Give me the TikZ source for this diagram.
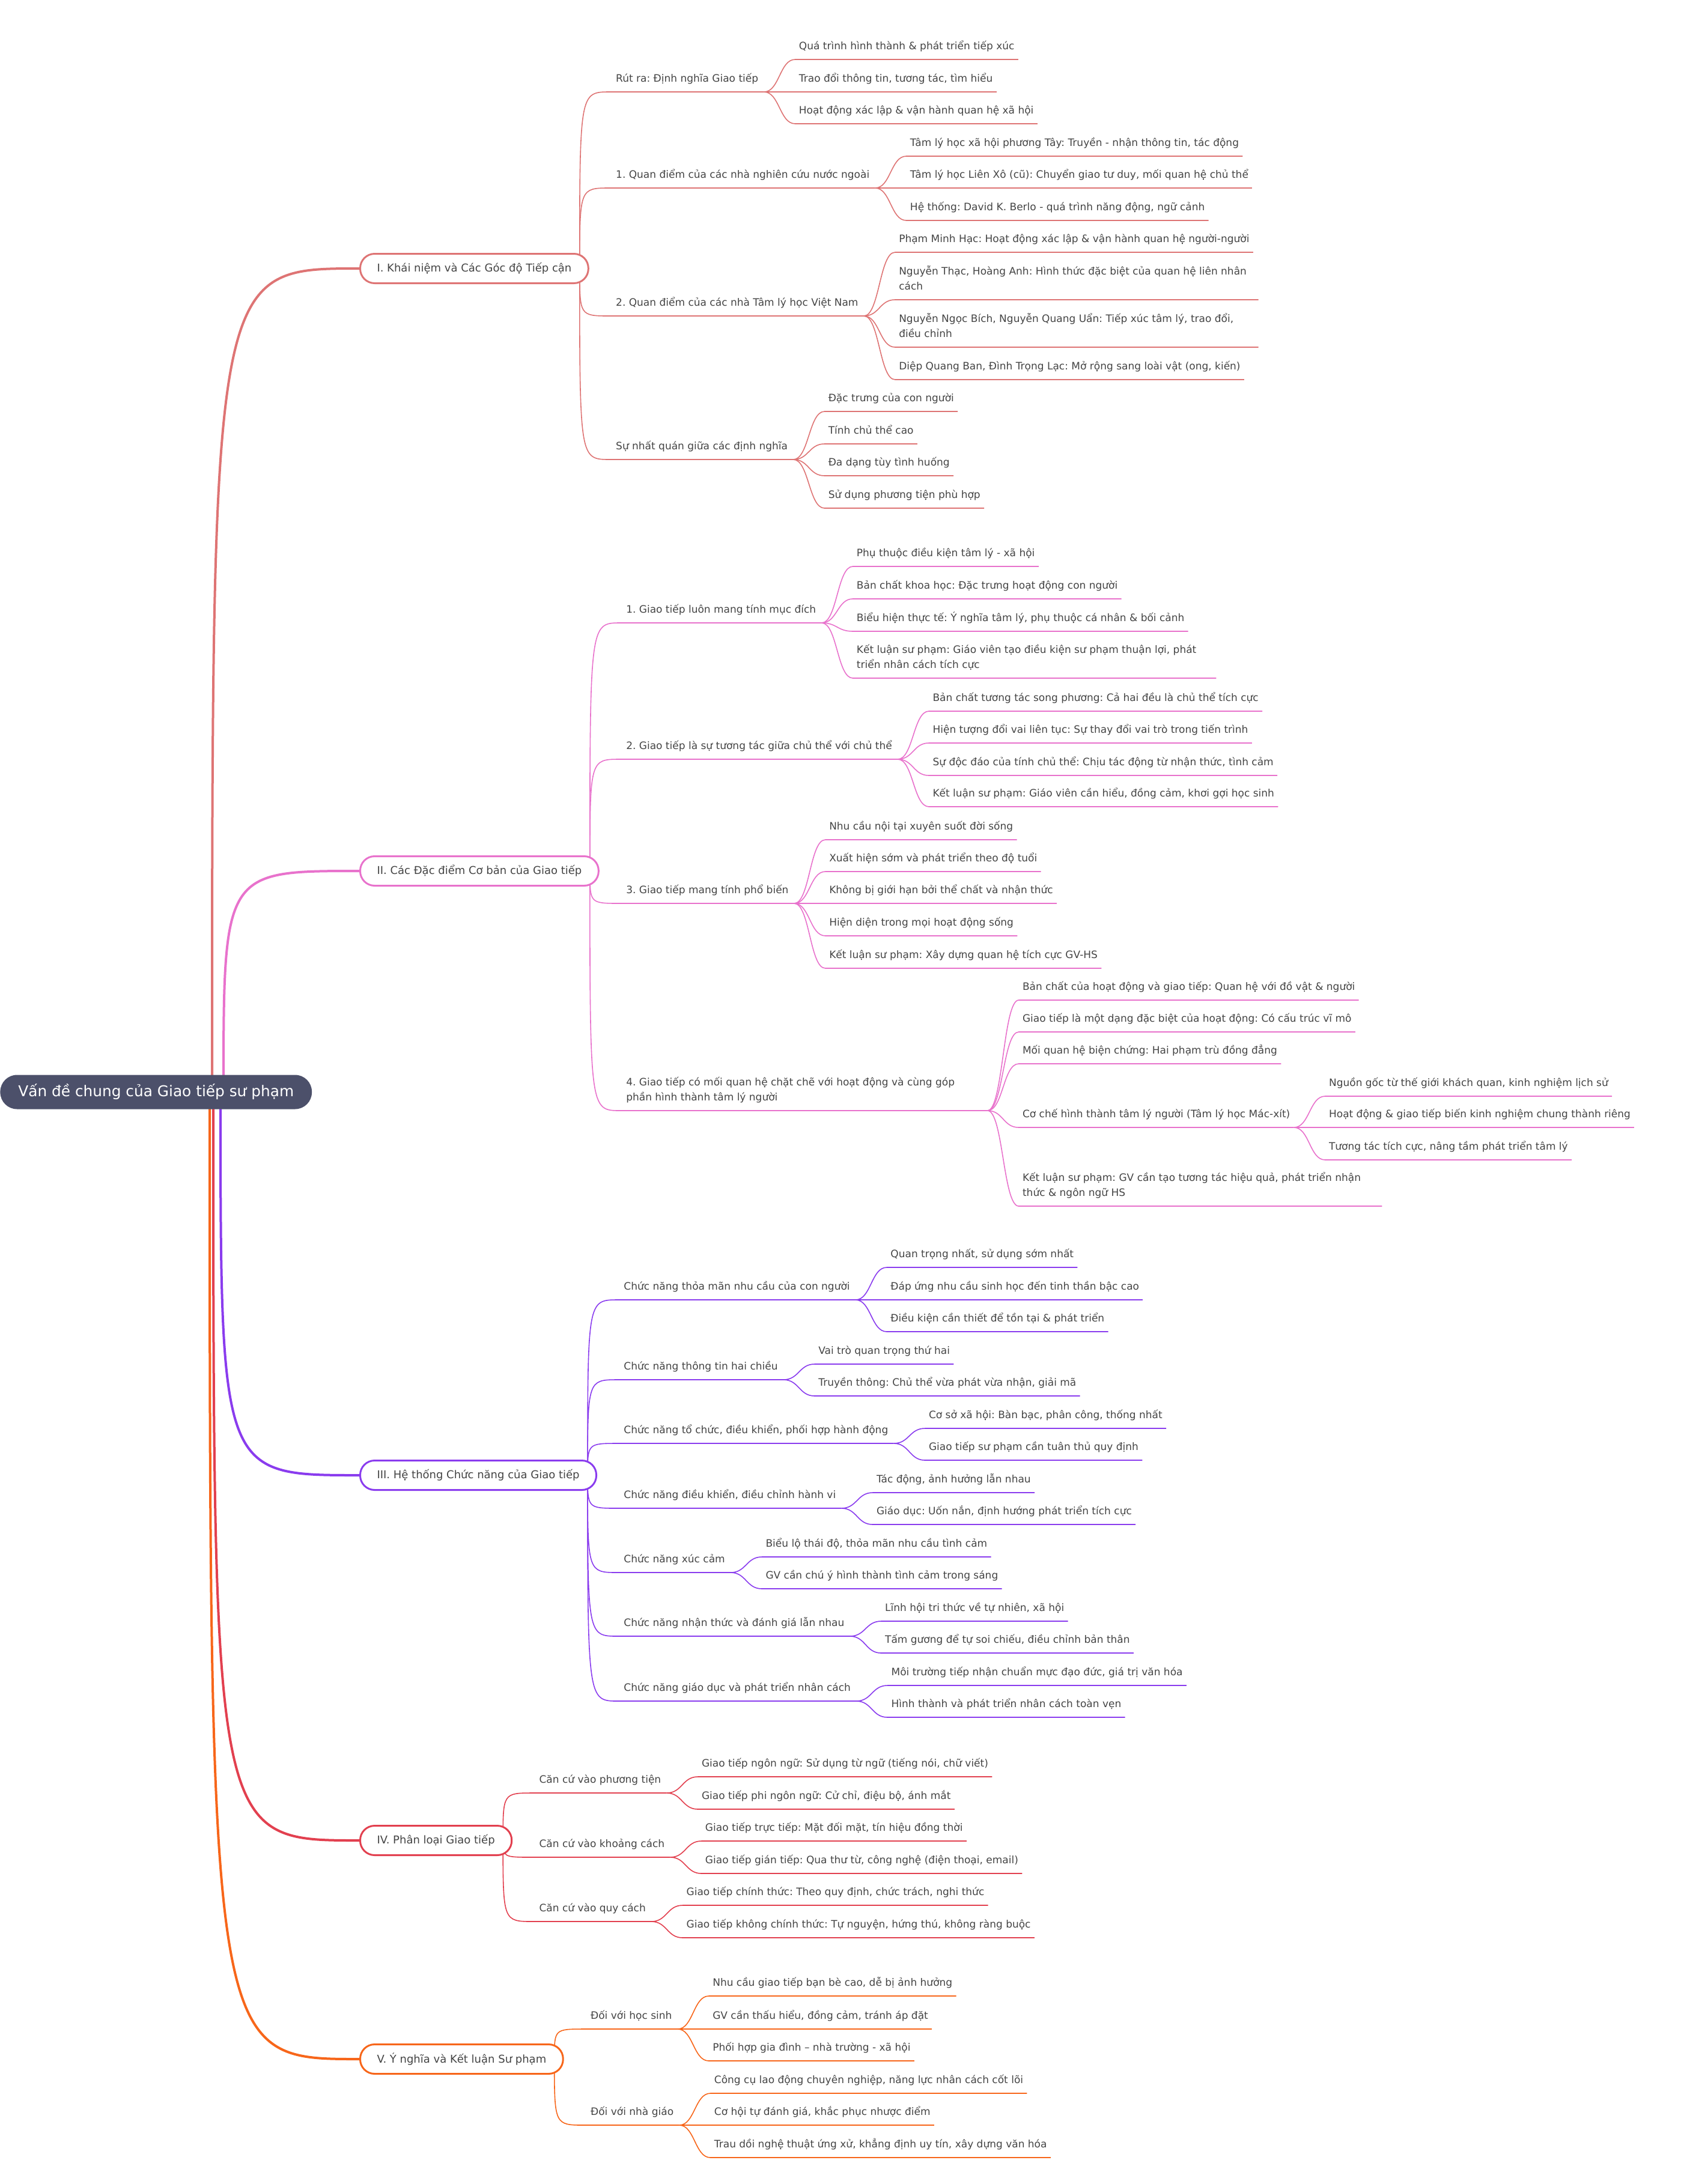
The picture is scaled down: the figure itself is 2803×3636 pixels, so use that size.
\documentclass[tikz,border=0pt]{standalone}
\usepackage{fontspec}
\setmainfont{DejaVu Sans}
\usetikzlibrary{calc,backgrounds}
\frenchspacing

\definecolor{txt}{HTML}{444444}
\definecolor{rootbg}{HTML}{4C506A}
\definecolor{colI}{HTML}{DE7474}
\definecolor{colII}{HTML}{E872CC}
\definecolor{colIII}{HTML}{8A3CEE}
\definecolor{colIV}{HTML}{E2404F}
\definecolor{colV}{HTML}{F7661A}

\tikzset{
  rootnode/.style={anchor=west, fill=rootbg, rounded corners=14pt, minimum height=28.5pt,
    inner xsep=15pt, text=white, font=\fontsize{12.4}{15}\selectfont},
  mainnode/.style={anchor=west, draw, fill=white, line width=1.5pt, rounded corners=12pt,
    minimum height=24.5pt, inner xsep=14pt, text=txt, font=\fontsize{9}{11}\selectfont},
  topic/.style={anchor=south west, inner xsep=4.5pt, inner ysep=0pt, text depth=8pt,
    text=txt, font=\fontsize{8.5}{12.5}\selectfont},
  leaf/.style={topic, inner xsep=3pt},
  trunk/.style={line width=2pt},
  twig/.style={line width=0.8pt},
}

\newcommand{\wrap}[1]{\parbox[b]{296pt}{\raggedright #1}}
% level-2 topic under a main branch: [opts]{name}{branch}{y}{colour}{text}
\newcommand{\topicnode}[6][]{%
  \path (#3.east) ++(35,0) coordinate (#2p);
  \path (#3.east) ++(-16,0) coordinate (#2o);
  \node[topic,#1] (#2) at (#2p |- 0,#4) {#6};
  \begin{scope}[on background layer]
    \draw[#5, twig] (#2o) .. controls (#2o |- #2.south west) .. (#2.south west) -- (#2.south east);
  \end{scope}}
% leaf under a topic: [opts]{name}{parent}{y}{colour}{text}
\newcommand{\leafnode}[6][]{%
  \path (#3.south east) ++(52,0) coordinate (#2p);
  \node[leaf,#1] (#2) at (#2p |- 0,#4) {#6};
  \draw[#5, twig] (#3.south east) .. controls +(26,0) and +(-26,0) .. (#2.south west) -- (#2.south east);}

\begin{document}
\begin{tikzpicture}[x=0.5pt,y=-0.5pt]
\useasboundingbox (0,0) rectangle (2803,3636);

% root and the five branches
\node[rootnode] (root) at (0,1818) {Vấn đề chung của Giao tiếp sư phạm};
\node[mainnode, draw=colI] (nI) at (598,447) {I. Khái niệm và Các Góc độ Tiếp cận};
\node[mainnode, draw=colII] (nII) at (598,1450) {II. Các Đặc điểm Cơ bản của Giao tiếp};
\node[mainnode, draw=colIII] (nIII) at (598,2456) {III. Hệ thống Chức năng của Giao tiếp};
\node[mainnode, draw=colIV] (nIV) at (598,3064) {IV. Phân loại Giao tiếp};
\node[mainnode, draw=colV] (nV) at (598,3428) {V. Ý nghĩa và Kết luận Sư phạm};

\coordinate (rI) at ($(root.west)+(353,0)$);
\coordinate (rII) at ($(root.west)+(372,0)$);
\coordinate (rIII) at ($(root.west)+(367,0)$);
\coordinate (rIV) at ($(root.west)+(355,0)$);
\coordinate (rV) at ($(root.west)+(349,0)$);

\begin{scope}[on background layer]
  \draw[colI, trunk] (rI) .. controls (rI |- nI.west) .. (nI.west);
  \draw[colII, trunk] (rII) .. controls (rII |- nII.west) .. (nII.west);
  \draw[colIII, trunk] (rIII) .. controls (rIII |- nIII.west) .. (nIII.west);
  \draw[colIV, trunk] (rIV) .. controls (rIV |- nIV.west) .. (nIV.west);
  \draw[colV, trunk] (rV) .. controls (rV |- nV.west) .. (nV.west);
\end{scope}

% I
\topicnode{a1}{nI}{153}{colI}{Rút ra: Định nghĩa Giao tiếp}
\leafnode{a11}{a1}{99}{colI}{Quá trình hình thành \& phát triển tiếp xúc}
\leafnode{a12}{a1}{153}{colI}{Trao đổi thông tin, tương tác, tìm hiểu}
\leafnode{a13}{a1}{206}{colI}{Hoạt động xác lập \& vận hành quan hệ xã hội}
\topicnode{a2}{nI}{313}{colI}{1. Quan điểm của các nhà nghiên cứu nước ngoài}
\leafnode{a21}{a2}{260}{colI}{Tâm lý học xã hội phương Tây: Truyền - nhận thông tin, tác động}
\leafnode{a22}{a2}{313}{colI}{Tâm lý học Liên Xô (cũ): Chuyển giao tư duy, mối quan hệ chủ thể}
\leafnode{a23}{a2}{367}{colI}{Hệ thống: David K. Berlo - quá trình năng động, ngữ cảnh}
\topicnode{a3}{nI}{526}{colI}{2. Quan điểm của các nhà Tâm lý học Việt Nam}
\leafnode{a31}{a3}{420}{colI}{Phạm Minh Hạc: Hoạt động xác lập \& vận hành quan hệ người-người}
\leafnode{a32}{a3}{499}{colI}{\wrap{Nguyễn Thạc, Hoàng Anh: Hình thức đặc biệt của quan hệ liên nhân cách}}
\leafnode{a33}{a3}{578}{colI}{\wrap{Nguyễn Ngọc Bích, Nguyễn Quang Uẩn: Tiếp xúc tâm lý, trao đổi, điều chỉnh}}
\leafnode{a34}{a3}{632}{colI}{Diệp Quang Ban, Đình Trọng Lạc: Mở rộng sang loài vật (ong, kiến)}
\topicnode{a4}{nI}{765}{colI}{Sự nhất quán giữa các định nghĩa}
\leafnode{a41}{a4}{685}{colI}{Đặc trưng của con người}
\leafnode{a42}{a4}{739}{colI}{Tính chủ thể cao}
\leafnode{a43}{a4}{792}{colI}{Đa dạng tùy tình huống}
\leafnode{a44}{a4}{846}{colI}{Sử dụng phương tiện phù hợp}

% II
\topicnode{b1}{nII}{1037}{colII}{1. Giao tiếp luôn mang tính mục đích}
\leafnode{b11}{b1}{943}{colII}{Phụ thuộc điều kiện tâm lý - xã hội}
\leafnode{b12}{b1}{997}{colII}{Bản chất khoa học: Đặc trưng hoạt động con người}
\leafnode{b13}{b1}{1051}{colII}{Biểu hiện thực tế: Ý nghĩa tâm lý, phụ thuộc cá nhân \& bối cảnh}
\leafnode{b14}{b1}{1129}{colII}{\wrap{Kết luận sư phạm: Giáo viên tạo điều kiện sư phạm thuận lợi, phát triển nhân cách tích cực}}
\topicnode{b2}{nII}{1264}{colII}{2. Giao tiếp là sự tương tác giữa chủ thể với chủ thể}
\leafnode{b21}{b2}{1184}{colII}{Bản chất tương tác song phương: Cả hai đều là chủ thể tích cực}
\leafnode{b22}{b2}{1237}{colII}{Hiện tượng đổi vai liên tục: Sự thay đổi vai trò trong tiến trình}
\leafnode{b23}{b2}{1291}{colII}{Sự độc đáo của tính chủ thể: Chịu tác động từ nhận thức, tình cảm}
\leafnode{b24}{b2}{1343}{colII}{Kết luận sư phạm: Giáo viên cần hiểu, đồng cảm, khơi gợi học sinh}
\topicnode{b3}{nII}{1504}{colII}{3. Giao tiếp mang tính phổ biến}
\leafnode{b31}{b3}{1398}{colII}{Nhu cầu nội tại xuyên suốt đời sống}
\leafnode{b32}{b3}{1451}{colII}{Xuất hiện sớm và phát triển theo độ tuổi}
\leafnode{b33}{b3}{1504}{colII}{Không bị giới hạn bởi thể chất và nhận thức}
\leafnode{b34}{b3}{1558}{colII}{Hiện diện trong mọi hoạt động sống}
\leafnode{b35}{b3}{1612}{colII}{Kết luận sư phạm: Xây dựng quan hệ tích cực GV-HS}
\topicnode{b4}{nII}{1849}{colII}{\wrap{4. Giao tiếp có mối quan hệ chặt chẽ với hoạt động và cùng góp\\phần hình thành tâm lý người}}
\leafnode{b41}{b4}{1665}{colII}{Bản chất của hoạt động và giao tiếp: Quan hệ với đồ vật \& người}
\leafnode{b42}{b4}{1718}{colII}{Giao tiếp là một dạng đặc biệt của hoạt động: Có cấu trúc vĩ mô}
\leafnode{b43}{b4}{1771}{colII}{Mối quan hệ biện chứng: Hai phạm trù đồng đẳng}
\leafnode{b44}{b4}{1877}{colII}{Cơ chế hình thành tâm lý người (Tâm lý học Mác-xít)}
\leafnode{b441}{b44}{1825}{colII}{Nguồn gốc từ thế giới khách quan, kinh nghiệm lịch sử}
\leafnode{b442}{b44}{1877}{colII}{Hoạt động \& giao tiếp biến kinh nghiệm chung thành riêng}
\leafnode{b443}{b44}{1931}{colII}{Tương tác tích cực, nâng tầm phát triển tâm lý}
\leafnode{b45}{b4}{2008}{colII}{\wrap{Kết luận sư phạm: GV cần tạo tương tác hiệu quả, phát triển nhận thức \& ngôn ngữ HS}}

% III
\topicnode{c1}{nIII}{2164}{colIII}{Chức năng thỏa mãn nhu cầu của con người}
\leafnode{c11}{c1}{2110}{colIII}{Quan trọng nhất, sử dụng sớm nhất}
\leafnode{c12}{c1}{2164}{colIII}{Đáp ứng nhu cầu sinh học đến tinh thần bậc cao}
\leafnode{c13}{c1}{2217}{colIII}{Điều kiện cần thiết để tồn tại \& phát triển}
\topicnode{c2}{nIII}{2297}{colIII}{Chức năng thông tin hai chiều}
\leafnode{c21}{c2}{2271}{colIII}{Vai trò quan trọng thứ hai}
\leafnode{c22}{c2}{2324}{colIII}{Truyền thông: Chủ thể vừa phát vừa nhận, giải mã}
\topicnode{c3}{nIII}{2403}{colIII}{Chức năng tổ chức, điều khiển, phối hợp hành động}
\leafnode{c31}{c3}{2378}{colIII}{Cơ sở xã hội: Bàn bạc, phân công, thống nhất}
\leafnode{c32}{c3}{2431}{colIII}{Giao tiếp sư phạm cần tuân thủ quy định}
\topicnode{c4}{nIII}{2511}{colIII}{Chức năng điều khiển, điều chỉnh hành vi}
\leafnode{c41}{c4}{2485}{colIII}{Tác động, ảnh hưởng lẫn nhau}
\leafnode{c42}{c4}{2538}{colIII}{Giáo dục: Uốn nắn, định hướng phát triển tích cực}
\topicnode{c5}{nIII}{2618}{colIII}{Chức năng xúc cảm}
\leafnode{c51}{c5}{2592}{colIII}{Biểu lộ thái độ, thỏa mãn nhu cầu tình cảm}
\leafnode{c52}{c5}{2645}{colIII}{GV cần chú ý hình thành tình cảm trong sáng}
\topicnode{c6}{nIII}{2724}{colIII}{Chức năng nhận thức và đánh giá lẫn nhau}
\leafnode{c61}{c6}{2699}{colIII}{Lĩnh hội tri thức về tự nhiên, xã hội}
\leafnode{c62}{c6}{2752}{colIII}{Tấm gương để tự soi chiếu, điều chỉnh bản thân}
\topicnode{c7}{nIII}{2832}{colIII}{Chức năng giáo dục và phát triển nhân cách}
\leafnode{c71}{c7}{2806}{colIII}{Môi trường tiếp nhận chuẩn mực đạo đức, giá trị văn hóa}
\leafnode{c72}{c7}{2859}{colIII}{Hình thành và phát triển nhân cách toàn vẹn}

% IV
\topicnode{d1}{nIV}{2985}{colIV}{Căn cứ vào phương tiện}
\leafnode{d11}{d1}{2958}{colIV}{Giao tiếp ngôn ngữ: Sử dụng từ ngữ (tiếng nói, chữ viết)}
\leafnode{d12}{d1}{3012}{colIV}{Giao tiếp phi ngôn ngữ: Cử chỉ, điệu bộ, ánh mắt}
\topicnode{d2}{nIV}{3092}{colIV}{Căn cứ vào khoảng cách}
\leafnode{d21}{d2}{3065}{colIV}{Giao tiếp trực tiếp: Mặt đối mặt, tín hiệu đồng thời}
\leafnode{d22}{d2}{3119}{colIV}{Giao tiếp gián tiếp: Qua thư từ, công nghệ (điện thoại, email)}
\topicnode{d3}{nIV}{3199}{colIV}{Căn cứ vào quy cách}
\leafnode{d31}{d3}{3172}{colIV}{Giao tiếp chính thức: Theo quy định, chức trách, nghi thức}
\leafnode{d32}{d3}{3226}{colIV}{Giao tiếp không chính thức: Tự nguyện, hứng thú, không ràng buộc}

% V
\topicnode{e1}{nV}{3378}{colV}{Đối với học sinh}
\leafnode{e11}{e1}{3323}{colV}{Nhu cầu giao tiếp bạn bè cao, dễ bị ảnh hưởng}
\leafnode{e12}{e1}{3378}{colV}{GV cần thấu hiểu, đồng cảm, tránh áp đặt}
\leafnode{e13}{e1}{3431}{colV}{Phối hợp gia đình – nhà trường - xã hội}
\topicnode{e2}{nV}{3538}{colV}{Đối với nhà giáo}
\leafnode{e21}{e2}{3485}{colV}{Công cụ lao động chuyên nghiệp, năng lực nhân cách cốt lõi}
\leafnode{e22}{e2}{3538}{colV}{Cơ hội tự đánh giá, khắc phục nhược điểm}
\leafnode{e23}{e2}{3592}{colV}{Trau dồi nghệ thuật ứng xử, khẳng định uy tín, xây dựng văn hóa}
\end{tikzpicture}
\end{document}
